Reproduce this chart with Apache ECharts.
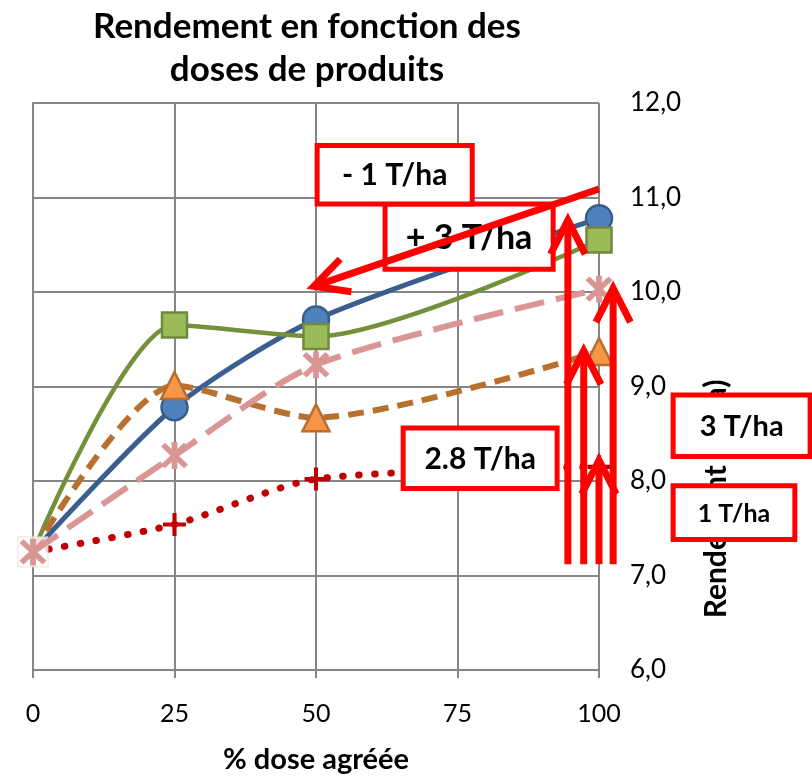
<!DOCTYPE html>
<html><head><meta charset="utf-8">
<script src="https://cdn.jsdelivr.net/npm/echarts@6/dist/echarts.min.js"></script>
<style>html,body{margin:0;padding:0;background:#fff}#c{width:812px;height:779px}</style>
</head><body><div id="c"></div>
<script>
// ---- data ----
const doses = [0, 25, 50, 100];
const serieBleue = [7.25, 8.78, 9.71, 10.78];
const serieVerte = [7.25, 9.65, 9.53, 10.55];
const serieOrange = [7.25, 9.01, 8.67, 9.37];
const serieRose = [7.25, 8.27, 9.23, 10.03];
const serieRouge = [7.25, 7.54, 8.02, 8.15];
const xTicks = [0, 25, 50, 75, 100];
const yMin = 6, yMax = 12, yStep = 1;
const titre = 'Rendement en fonction des\ndoses de produits';
const xName = '% dose agréée';
const yName = 'Rendement (T/ha)';
// annotations (data coordinates)
const boxTexts = ['+ 3 T/ha', '- 1 T/ha', '2.8 T/ha', '3 T/ha', '1 T/ha'];
const boxX0 = [62.2, 50.2, 65.4, 113.1, 113.1];
const boxX1 = [91.9, 77.6, 92.6, 137.3, 134.6];
const boxYTop = [10.93, 11.55, 8.56, 8.91, 7.95];
const boxYBot = [10.24, 10.93, 7.92, 8.26, 7.38];
const boxFont = [34, 30, 30, 29, 25];
const arrowFromX = [100, 94.5, 97.3, 100, 102.5];
const arrowFromY = [11.09, 7.12, 7.12, 7.12, 7.12];
const arrowToX = [49.6, 94.5, 97.3, 100, 102.5];
const arrowToY = [10.06, 10.76, 9.38, 8.22, 10.04];

const FONT = 'Lato, "Noto Sans", sans-serif';
const GRID_C = '#868686';
const SMOOTH = 0.25;

function pairs(ys) { return doses.map((d, i) => [d, ys[i]]); }

const asterisk = 'path://M-2,-10 L2,-10 L2,10 L-2,10 Z M-6.6,-9.4 L9.4,6.6 L6.6,9.4 L-9.4,-6.6 Z M9.4,-6.6 L-6.6,9.4 L-9.4,6.6 L6.6,-9.4 Z';
const plus = 'path://M-1.8,-10 L1.8,-10 L1.8,-1.8 L10,-1.8 L10,1.8 L1.8,1.8 L1.8,10 L-1.8,10 L-1.8,1.8 L-10,1.8 L-10,-1.8 L-1.8,-1.8 Z';

function firstHidden(ys) {
  return pairs(ys).map((p, i) => i === 0 ? { value: p, symbol: 'none' } : p);
}

const chart = echarts.init(document.getElementById('c'), null, { renderer: 'canvas' });
chart.setOption({
  animation: false,
  backgroundColor: '#fff',
  title: {
    text: titre, left: 302, textAlign: 'center', top: 0,
    textStyle: { fontFamily: FONT, fontSize: 35, fontWeight: 'bold', color: '#000', lineHeight: 43 }
  },
  grid: { left: 33, right: 213, top: 103, bottom: 106 },
  xAxis: {
    type: 'value', min: xTicks[0], max: xTicks[xTicks.length - 1], interval: 25,
    axisLine: { show: true, lineStyle: { color: GRID_C, width: 2 } },
    axisTick: { show: true, length: 8, lineStyle: { color: GRID_C, width: 2 } },
    splitLine: { show: true, lineStyle: { color: GRID_C, width: 2 } },
    axisLabel: { margin: 31, fontSize: 25, color: '#000', fontFamily: FONT },
    name: xName, nameLocation: 'middle', nameGap: 75,
    nameTextStyle: { fontFamily: FONT, fontSize: 29, fontWeight: 'bold', color: '#000' }
  },
  yAxis: {
    type: 'value', position: 'right', min: yMin, max: yMax, interval: yStep,
    axisLine: { show: true, lineStyle: { color: GRID_C, width: 2 } },
    axisTick: { show: true, length: 8, lineStyle: { color: GRID_C, width: 2 } },
    splitLine: { show: true, lineStyle: { color: GRID_C, width: 2 } },
    axisLabel: { margin: 31, fontSize: 26, color: '#000', fontFamily: FONT,
      formatter: v => v.toFixed(1).replace('.', ',') }
  },
  series: [
    { type: 'line', data: firstHidden(serieBleue), smooth: SMOOTH, z: 2,
      lineStyle: { color: '#3A5F8E', width: 5 },
      symbol: 'circle', symbolSize: 26,
      itemStyle: { color: '#4F81BD', borderColor: '#385D8A', borderWidth: 2.5 } },
    { type: 'line', data: firstHidden(serieVerte), smooth: SMOOTH, z: 2,
      lineStyle: { color: '#73903B', width: 4.5 },
      symbol: 'rect', symbolSize: 25,
      itemStyle: { color: '#9BBB59', borderColor: '#71893F', borderWidth: 2.5 } },
    { type: 'line', data: firstHidden(serieOrange), smooth: SMOOTH, z: 2,
      lineStyle: { color: '#B8702F', width: 6, type: [16, 9] },
      symbol: 'triangle', symbolSize: 27,
      itemStyle: { color: '#F79646', borderColor: '#B66D31', borderWidth: 2.5 } },
    { type: 'line', data: firstHidden(serieRouge), smooth: SMOOTH, z: 2,
      lineStyle: { color: '#C00000', width: 7, type: [0.5, 15.5], cap: 'round' },
      symbol: plus, symbolSize: 23,
      itemStyle: { color: '#C00000', borderWidth: 0 } },
    { type: 'scatter', data: [[doses[0], serieRose[0]]], z: 3, silent: true,
      symbol: 'rect', symbolSize: 30,
      itemStyle: { color: '#FFFFFF', borderColor: '#E6D8C4', borderWidth: 1 } },
    { type: 'line', data: pairs(serieRose), smooth: SMOOTH, z: 4,
      lineStyle: { color: '#D99694', width: 6, type: [30, 12] },
      symbol: asterisk, symbolSize: 27,
      itemStyle: { color: '#D99694', borderWidth: 0 } }
  ]
});

function px(x, y) { return chart.convertToPixel({ gridIndex: 0 }, [x, y]); }

const RED = '#FF0000';
const g = [];
// y-axis name (partially hidden under boxes)
g.push({ type: 'text', x: 716, y: 499, rotation: Math.PI / 2, z: 50,
  style: { text: yName, font: 'bold 30px ' + FONT, fill: '#000',
    align: 'center', verticalAlign: 'middle', textAlign: 'center', textVerticalAlign: 'middle' } });
// boxes
boxTexts.forEach((t, i) => {
  const a = px(boxX0[i], boxYTop[i]);
  const b = px(boxX1[i], boxYBot[i]);
  g.push({ type: 'rect', z: 60 + i,
    shape: { x: a[0], y: a[1], width: b[0] - a[0], height: b[1] - a[1] },
    style: { fill: '#fff', stroke: RED, lineWidth: 5 } });
  g.push({ type: 'text', z: 60 + i,
    x: (a[0] + b[0]) / 2, y: (a[1] + b[1]) / 2 + 1,
    style: { text: t, font: 'bold ' + boxFont[i] + 'px ' + FONT, fill: '#000',
      align: 'center', verticalAlign: 'middle', textAlign: 'center', textVerticalAlign: 'middle' } });
});
// arrows
arrowFromX.forEach((_, i) => {
  const f = px(arrowFromX[i], arrowFromY[i]);
  const t = px(arrowToX[i], arrowToY[i]);
  let dx = f[0] - t[0], dy = f[1] - t[1];
  const len = Math.hypot(dx, dy); dx /= len; dy /= len;
  const ang = 27 * Math.PI / 180, L = 38;
  const rot = s => [t[0] + L * (dx * Math.cos(s * ang) - dy * Math.sin(s * ang)),
                    t[1] + L * (dx * Math.sin(s * ang) + dy * Math.cos(s * ang))];
  g.push({ type: 'line', z: 80,
    shape: { x1: f[0], y1: f[1], x2: t[0] + dx * 3, y2: t[1] + dy * 3 },
    style: { stroke: RED, lineWidth: 7 } });
  g.push({ type: 'polyline', z: 80,
    shape: { points: [rot(1), t, rot(-1)] },
    style: { stroke: RED, lineWidth: 7, fill: null, lineJoin: 'miter' } });
});
chart.setOption({ graphic: g });
</script>
</body></html>
